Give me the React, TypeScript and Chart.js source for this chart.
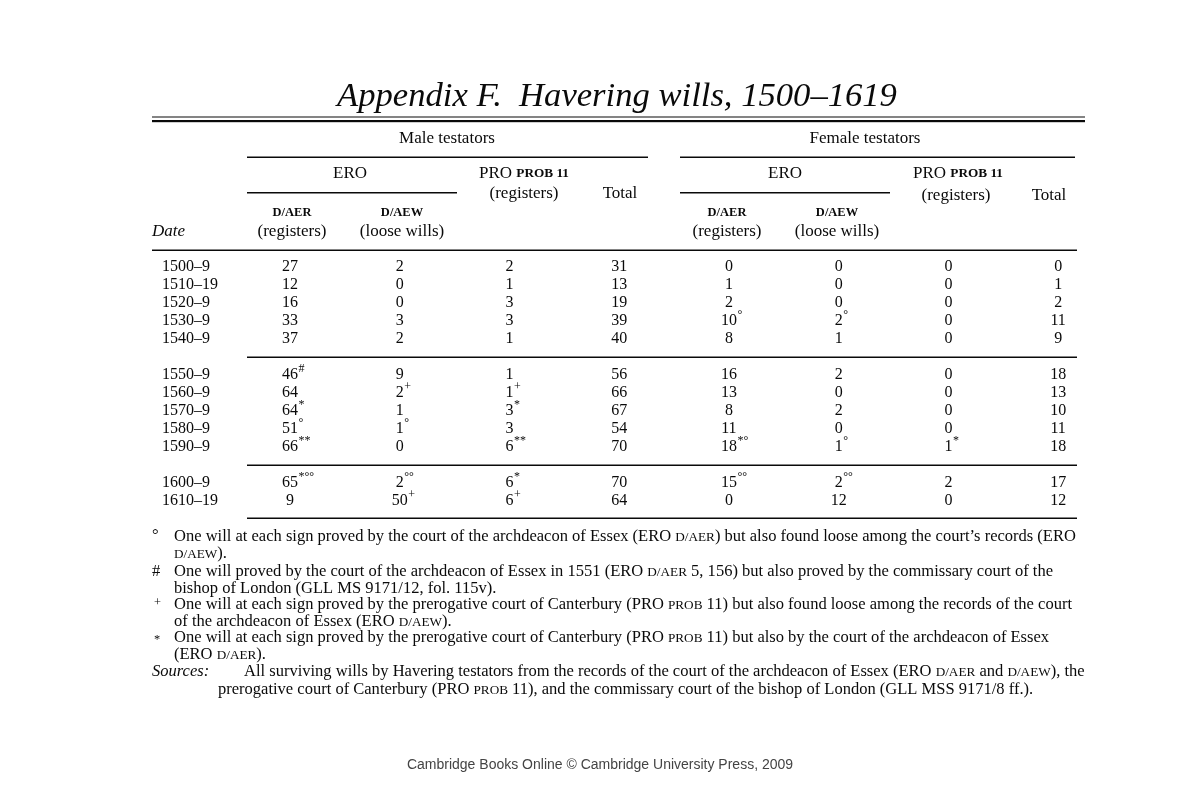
import React, { useEffect, useRef } from 'react';
import { Chart, registerables } from 'chart.js';

Chart.register(...registerables);

// ---------- data ----------
const titleText = 'Appendix F.  Havering wills, 1500–1619';
const dates = ['1500–9', '1510–19', '1520–9', '1530–9', '1540–9', '1550–9', '1560–9', '1570–9', '1580–9', '1590–9', '1600–9', '1610–19'];
const groupSizes = [5, 5, 2];
const columns = ['mAER', 'mAEW', 'mPRO', 'mTotal', 'fAER', 'fAEW', 'fPRO', 'fTotal'];

const maleAER = [27, 12, 16, 33, 37, 46, 64, 64, 51, 66, 65, 9];
const maleAERMarks = ['', '', '', '', '', '#', '', '*', '°', '**', '*°°', ''];
const maleAEW = [2, 0, 0, 3, 2, 9, 2, 1, 1, 0, 2, 50];
const maleAEWMarks = ['', '', '', '', '', '', '+', '', '°', '', '°°', '+'];
const malePRO = [2, 1, 3, 3, 1, 1, 1, 3, 3, 6, 6, 6];
const malePROMarks = ['', '', '', '', '', '', '+', '*', '', '**', '*', '+'];
const maleTotal = [31, 13, 19, 39, 40, 56, 66, 67, 54, 70, 70, 64];

const femaleAER = [0, 1, 2, 10, 8, 16, 13, 8, 11, 18, 15, 0];
const femaleAERMarks = ['', '', '', '°', '', '', '', '', '', '*°', '°°', ''];
const femaleAEW = [0, 0, 0, 2, 1, 2, 0, 2, 0, 1, 2, 12];
const femaleAEWMarks = ['', '', '', '°', '', '', '', '', '', '°', '°°', ''];
const femalePRO = [0, 0, 0, 0, 0, 0, 0, 0, 0, 1, 2, 0];
const femalePROMarks = ['', '', '', '', '', '', '', '', '', '*', '', ''];
const femaleTotal = [0, 1, 2, 11, 9, 18, 13, 10, 11, 18, 17, 12];

type Run = [string, 'r' | 'sc' | 'i'];

const noteMarkers = ['°', '#', '+', '*'];
const noteLines: Run[][] = [
  [['One will at each sign proved by the court of the archdeacon of Essex (ERO ', 'r'], ['D/AER', 'sc'], [') but also found loose among the court’s records (ERO', 'r']],
  [['D/AEW', 'sc'], [').', 'r']],
  [['One will proved by the court of the archdeacon of Essex in 1551 (ERO ', 'r'], ['D/AER', 'sc'], [' 5, 156) but also proved by the commissary court of the', 'r']],
  [['bishop of London (GLL MS 9171/12, fol. 115v).', 'r']],
  [['One will at each sign proved by the prerogative court of Canterbury (PRO ', 'r'], ['PROB', 'sc'], [' 11) but also found loose among the records of the court', 'r']],
  [['of the archdeacon of Essex (ERO ', 'r'], ['D/AEW', 'sc'], [').', 'r']],
  [['One will at each sign proved by the prerogative court of Canterbury (PRO ', 'r'], ['PROB', 'sc'], [' 11) but also by the court of the archdeacon of Essex', 'r']],
  [['(ERO ', 'r'], ['D/AER', 'sc'], [').', 'r']],
];
const sourcesLabel = 'Sources:';
const sourcesLines: Run[][] = [
  [['All surviving wills by Havering testators from the records of the court of the archdeacon of Essex (ERO ', 'r'], ['D/AER', 'sc'], [' and ', 'r'], ['D/AEW', 'sc'], ['), the', 'r']],
  [['prerogative court of Canterbury (PRO ', 'r'], ['PROB', 'sc'], [' 11), and the commissary court of the bishop of London (GLL MSS 9171/8 ff.).', 'r']],
];
const creditText = 'Cambridge Books Online © Cambridge University Press, 2009';

// ---------- derived ----------
const rowLabels: string[] = [];
{
  let k = 0;
  groupSizes.forEach((n, g) => {
    if (g > 0) rowLabels.push(' '.repeat(g));
    for (let i = 0; i < n; i++) rowLabels.push(dates[k++]);
  });
}

const columnData = [
  [maleAER, maleAERMarks],
  [maleAEW, maleAEWMarks],
  [malePRO, malePROMarks],
  [maleTotal, null],
  [femaleAER, femaleAERMarks],
  [femaleAEW, femaleAEWMarks],
  [femalePRO, femalePROMarks],
  [femaleTotal, null],
] as [number[], string[] | null][];

const SERIF = '"Liberation Serif", "Times New Roman", serif';
const INK = '#0a0a0a';

function fontFor(style: string, size: number) {
  if (style === 'i') return `italic ${size}px ${SERIF}`;
  if (style === 'sc') return `${(size * 0.8).toFixed(2)}px ${SERIF}`;
  if (style === 'scb') return `bold ${(size * 0.78).toFixed(2)}px ${SERIF}`;
  return `${size}px ${SERIF}`;
}

function runsWidth(ctx: CanvasRenderingContext2D, runs: any[], size: number) {
  let w = 0;
  runs.forEach(([t, s]) => {
    ctx.font = fontFor(s, size);
    w += ctx.measureText(t).width;
  });
  return w;
}

function drawRuns(ctx: CanvasRenderingContext2D, runs: any[], x: number, y: number, size: number, align: 'left' | 'center' = 'left') {
  let cx = x;
  if (align === 'center') cx = x - runsWidth(ctx, runs, size) / 2;
  ctx.textAlign = 'left';
  runs.forEach(([t, s]) => {
    ctx.font = fontFor(s, size);
    ctx.fillText(t, cx, y);
    cx += ctx.measureText(t).width;
  });
}

const tablePlugin = {
  id: 'tableDecor',
  afterDraw(chart: any) {
    const ctx: CanvasRenderingContext2D = chart.ctx;
    ctx.save();
    ctx.fillStyle = INK;
    ctx.textBaseline = 'alphabetic';

    // title
    ctx.font = `italic 32px ${SERIF}`;
    const tw = ctx.measureText(titleText).width;
    const tSize = 32 * 560 / tw;
    ctx.font = `italic ${tSize}px ${SERIF}`;
    ctx.textAlign = 'center';
    ctx.fillText(titleText, 617, 106);

    // rules
    const rule = (x1: number, x2: number, y: number, h: number) => ctx.fillRect(x1, y, x2 - x1, h);
    rule(152, 1085, 116.5, 1);
    rule(152, 1085, 120, 2.2);
    rule(247, 648, 156.5, 1.5);
    rule(680, 1075, 156.5, 1.5);
    rule(247, 457, 192, 1.5);
    rule(680, 890, 192, 1.5);
    rule(152, 1077, 249.5, 1.5);

    // group separator rules between row groups, placed from the y scale
    const ys = chart.scales.y;
    rowLabels.forEach((l, i) => {
      if (l.trim() === '') {
        const y = ys.getPixelForValue(i);
        rule(247, 1077, y - 0.5, 1.5);
      }
    });
    const yBottom = ys.getPixelForValue(rowLabels.length - 1) + 17;
    rule(247, 1077, yBottom - 0.5, 1.5);

    // headers
    const H = 17;
    ctx.textBaseline = 'middle';
    drawRuns(ctx, [['Male testators', 'r']], 447, 139, H, 'center');
    drawRuns(ctx, [['Female testators', 'r']], 865, 139, H, 'center');
    drawRuns(ctx, [['ERO', 'r']], 350, 174, H, 'center');
    drawRuns(ctx, [['ERO', 'r']], 785, 174, H, 'center');
    drawRuns(ctx, [['PRO ', 'r'], ['PROB 11', 'scb']], 524, 174, H, 'center');
    drawRuns(ctx, [['PRO ', 'r'], ['PROB 11', 'scb']], 958, 174, H, 'center');
    drawRuns(ctx, [['(registers)', 'r']], 524, 194, H, 'center');
    drawRuns(ctx, [['(registers)', 'r']], 956, 196, H, 'center');
    drawRuns(ctx, [['Total', 'r']], 620, 194, H, 'center');
    drawRuns(ctx, [['Total', 'r']], 1049, 196, H, 'center');
    const sub = [[292, 'D/AER', '(registers)'], [402, 'D/AEW', '(loose wills)'], [727, 'D/AER', '(registers)'], [837, 'D/AEW', '(loose wills)']] as [number, string, string][];
    sub.forEach(([x, a, b]) => {
      drawRuns(ctx, [[a, 'scb']], x, 213, 16, 'center');
      drawRuns(ctx, [[b, 'r']], x, 232, H, 'center');
    });
    drawRuns(ctx, [['Date', 'i']], 152, 232, H, 'left');

    // cells
    chart.data.datasets.forEach((ds: any, di: number) => {
      const meta = chart.getDatasetMeta(di);
      meta.data.forEach((el: any, j: number) => {
        const raw = ds.data[j];
        const txt = String(raw.v);
        ctx.font = `16px ${SERIF}`;
        ctx.textAlign = 'center';
        ctx.textBaseline = 'middle';
        ctx.fillText(txt, el.x, el.y);
        if (raw.m) {
          const w = ctx.measureText(txt).width;
          ctx.font = `12px ${SERIF}`;
          ctx.textAlign = 'left';
          ctx.fillText(raw.m, el.x + w / 2 + 0.5, el.y - 6);
        }
      });
    });

    // notes
    const fitW = runsWidth(ctx, noteLines[0], 16);
    const fs = 16 * 903 / fitW;
    ctx.textBaseline = 'alphabetic';
    const noteY = [541, 558, 576, 593, 609, 626, 642, 659];
    noteLines.forEach((ln, i) => drawRuns(ctx, ln, 174, noteY[i], fs));
    ctx.font = `${fs}px ${SERIF}`;
    ctx.textAlign = 'left';
    ctx.fillText(noteMarkers[0], 152, 540);
    ctx.fillText(noteMarkers[1], 152, 576);
    ctx.font = `${fs * 0.75}px ${SERIF}`;
    ctx.fillText(noteMarkers[2], 154, 606);
    ctx.fillText(noteMarkers[3], 154, 643);
    drawRuns(ctx, [[sourcesLabel, 'i']], 152, 676, fs);
    drawRuns(ctx, sourcesLines[0], 244, 676, fs);
    drawRuns(ctx, sourcesLines[1], 218, 694, fs);

    // credit
    ctx.fillStyle = '#444';
    ctx.font = '14px "Liberation Sans", Arial, sans-serif';
    ctx.textAlign = 'center';
    ctx.textBaseline = 'middle';
    ctx.fillText(creditText, 600, 765);
    ctx.restore();
  },
};

export default function App() {
  const ref = useRef<HTMLCanvasElement>(null);
  useEffect(() => {
    if (!ref.current) return;
    const datasets = columns.map((c, ci) => {
      const [vals, marks] = columnData[ci];
      return {
        label: c,
        data: dates.map((d, i) => ({ x: c, y: d, v: vals[i], m: marks ? marks[i] : '' })),
        pointRadius: 0,
        pointHoverRadius: 0,
        showLine: false,
      };
    });
    const chart = new Chart(ref.current, {
      type: 'scatter',
      data: { datasets } as any,
      options: {
        animation: false,
        responsive: false,
        events: [],
        layout: { padding: { left: 162, right: 88, top: 267, bottom: 300 } },
        plugins: { legend: { display: false }, tooltip: { enabled: false } },
        scales: {
          x: { type: 'category', labels: columns, offset: true, display: false },
          y: {
            type: 'category',
            labels: rowLabels,
            offset: false,
            grid: { display: false },
            border: { display: false },
            afterFit: (s: any) => { s.width = 73; },
            ticks: {
              autoSkip: false,
              crossAlign: 'far',
              padding: 0,
              color: INK,
              font: { family: 'Liberation Serif', size: 16 },
            },
          },
        },
      } as any,
      plugins: [tablePlugin],
    });
    return () => chart.destroy();
  }, []);
  return (
    <div style={{ position: 'fixed', left: 0, top: 0, width: 1201, height: 801, background: '#fff' }}>
      <canvas ref={ref} width={1201} height={801} />
    </div>
  );
}
